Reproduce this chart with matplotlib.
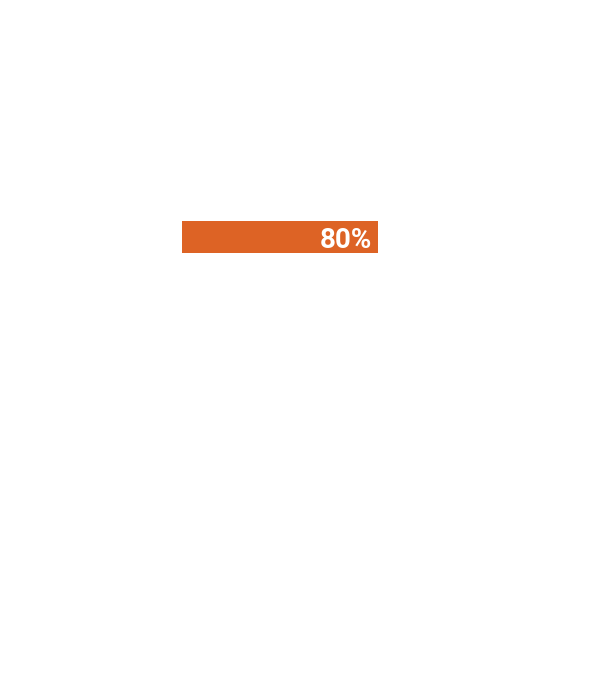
import matplotlib
matplotlib.use("Agg")
import matplotlib.pyplot as plt

categories = ["Progress"]
values = [80]
labels = ["80%"]
max_value = 100

fig = plt.figure(figsize=(6.05, 6.8), dpi=100)
ax = fig.add_axes([182/605, (680-253)/680, 245/605, 32/680])
ax.barh(categories, values, height=1.0, color="#DD6325")
ax.set_xlim(0, max_value)
ax.set_ylim(-0.5, 0.5)
for i, (v, lab) in enumerate(zip(values, labels)):
    ax.annotate(lab, xy=(v, i), xytext=(-4, -2.5), textcoords="offset points",
                ha="right", va="center", color="white", fontsize=20,
                fontweight="bold", family=["Roboto", "DejaVu Sans"])
ax.axis("off")
fig.savefig("out.png", dpi=100)
